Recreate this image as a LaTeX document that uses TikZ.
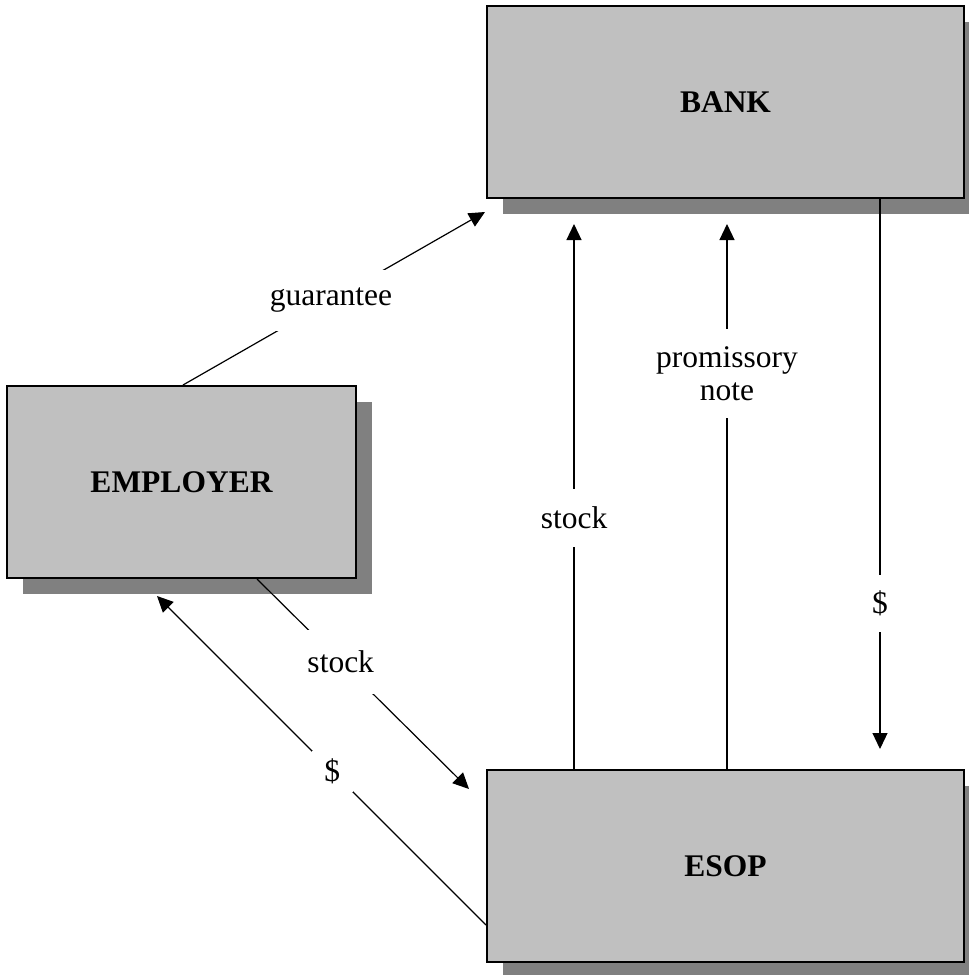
\documentclass[tikz,border=0pt]{standalone}
\usepackage{fontspec}
\setmainfont{Liberation Serif}
\usetikzlibrary{arrows.meta,shadows}
\definecolor{boxfill}{RGB}{192,192,192}
\definecolor{shadowgray}{RGB}{128,128,128}
\begin{document}
\begin{tikzpicture}[x=1pt,y=-1pt,
  entity/.style={draw=black, line width=2pt, fill=boxfill,
    font=\fontsize{31.5}{33}\selectfont\bfseries,
    drop shadow={shadow xshift=16pt, shadow yshift=-16pt, fill=shadowgray, opacity=1}},
  flow/.style={line width=1.2pt, -{Triangle[length=16pt,width=15pt]}},
  lbl/.style={fill=white, inner sep=0pt, font=\fontsize{31.5}{33}\selectfont, align=center}
]
\useasboundingbox (0,0) rectangle (969,975);
\fill[white] (0,0) rectangle (969,975);

\node[entity, minimum width=477pt, minimum height=192pt] (bank) at (725.5,102) {BANK};
\node[entity, minimum width=349pt, minimum height=192pt] (emp) at (181.5,482) {EMPLOYER};
\node[entity, minimum width=477pt, minimum height=192pt] (esop) at (725.5,866) {ESOP};

% guarantee
\draw[flow] ([xshift=1.5pt]emp.north) -- ([xshift=-1pt,yshift=-13pt]bank.south west)
  node[lbl, pos=0.49, minimum height=61pt] {guarantee};
% stock employer -> ESOP
\draw[flow] ([xshift=75.5pt]emp.south) -- ([xshift=-17pt,yshift=-20pt]esop.north west)
  node[lbl, pos=0.395, minimum height=64pt] {stock};
% $ ESOP -> employer
\draw[flow] ([yshift=-59pt]esop.west) -- ([xshift=151pt,yshift=-17pt]emp.south west)
  node[lbl, pos=0.467, minimum size=41pt] {\$};
% stock ESOP -> bank
\draw[flow] ([xshift=-151.5pt]esop.north) -- ([xshift=-151.5pt,yshift=-25pt]bank.south)
  node[lbl, pos=0.461, minimum height=58pt] {stock};
% promissory note
\draw[flow] ([xshift=1.5pt]esop.north) -- ([xshift=1.5pt,yshift=-25pt]bank.south)
  node[lbl, pos=0.725, minimum height=89pt] {promissory\\note};
% $ bank -> ESOP
\draw[flow] ([xshift=154.5pt]bank.south) -- ([xshift=154.5pt,yshift=20pt]esop.north)
  node[lbl, pos=0.735, minimum height=57pt] {\$};
\end{tikzpicture}
\end{document}
